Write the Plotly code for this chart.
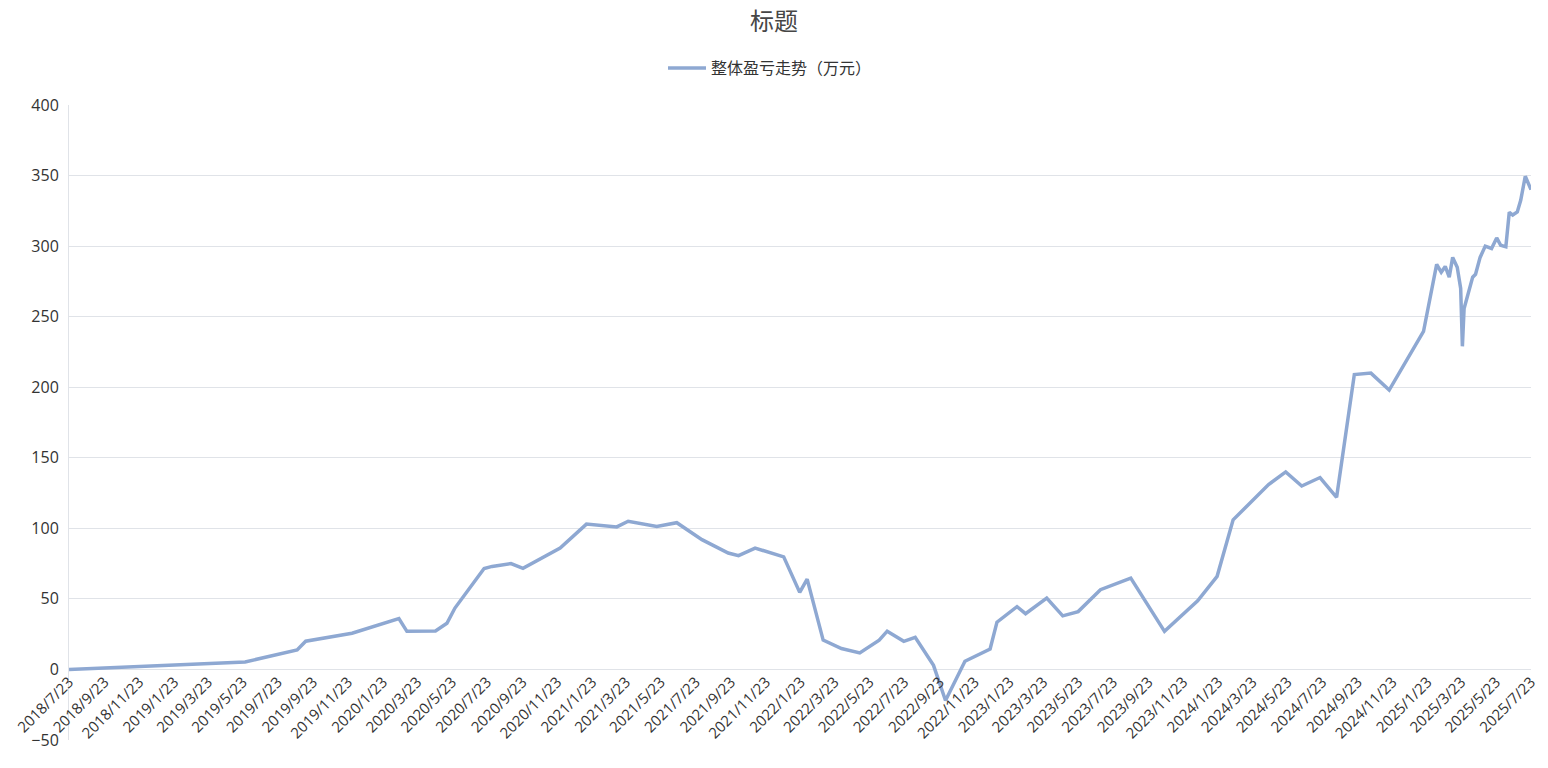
import plotly.graph_objects as go
from datetime import date

title_text = "标题"
series_name = "整体盈亏走势（万元）"

dates = [
    "2018-07-23", "2019-05-27", "2019-08-26", "2019-09-10", "2019-11-30",
    "2020-02-20", "2020-03-05", "2020-04-24", "2020-05-14", "2020-05-28",
    "2020-07-18", "2020-08-01", "2020-09-03", "2020-09-24", "2020-11-28",
    "2021-01-13", "2021-03-07", "2021-03-27", "2021-05-16", "2021-06-20",
    "2021-08-03", "2021-09-18", "2021-10-06", "2021-11-04", "2021-12-24",
    "2022-01-21", "2022-02-03", "2022-03-03", "2022-04-04", "2022-05-06",
    "2022-06-09", "2022-06-23", "2022-07-22", "2022-08-11", "2022-09-12",
    "2022-10-03", "2022-11-06", "2022-12-20", "2023-01-01", "2023-02-05",
    "2023-02-20", "2023-03-29", "2023-04-26", "2023-05-23", "2023-07-01",
    "2023-08-23", "2023-10-21", "2023-12-18", "2024-01-21", "2024-02-18",
    "2024-04-20", "2024-05-20", "2024-06-17", "2024-07-19", "2024-08-17",
    "2024-09-17", "2024-10-16", "2024-11-17", "2025-01-16", "2025-02-08",
    "2025-02-16", "2025-02-23", "2025-03-02", "2025-03-08", "2025-03-16",
    "2025-03-22", "2025-03-25", "2025-03-28", "2025-04-12", "2025-04-17",
    "2025-04-25", "2025-05-04", "2025-05-15", "2025-05-24", "2025-05-31",
    "2025-06-09", "2025-06-15", "2025-06-21", "2025-06-29", "2025-07-05",
    "2025-07-13", "2025-07-23",
]

values = [
    0, 5.3, 13.8, 20, 25.7,
    36, 27, 27.3, 32.7, 43.5,
    71.5, 73, 75, 71.6, 86,
    103, 101, 105, 101.4, 104,
    92, 82.5, 80.6, 86, 79.8,
    54.6, 64, 20.8, 14.8, 11.7,
    20.8, 27.1, 19.9, 22.8, 2.9,
    -22, 5.8, 14.5, 33.5, 44.5,
    39.5, 50.5, 38, 41, 56.5,
    64.7, 27, 48.7, 66, 106,
    131, 140, 130, 136, 122,
    209, 210, 198, 239.5, 287,
    281.5, 285.6, 278, 292, 285,
    270, 229, 255.8, 278, 280,
    292, 300, 298.3, 305.8, 300.6,
    299.5, 324, 322, 324.2, 332.5,
    349.5, 340,
]

# x tick labels: every two months on the 23rd, 2018/7/23 .. 2025/7/23
tick_dates = []
y_, m_ = 2018, 7
while (y_, m_) <= (2025, 7):
    tick_dates.append(date(y_, m_, 23))
    m_ += 2
    if m_ > 12:
        m_ -= 12
        y_ += 1
tick_vals = [d.isoformat() for d in tick_dates]
tick_text = [f"{d.year}/{d.month}/{d.day}" for d in tick_dates]

y_ticks = [-50, 0, 50, 100, 150, 200, 250, 300, 350, 400]

W, H = 1548, 768
ML, MR, MT, MB = 69, 17, 105, 28
plot_w = W - ML - MR
plot_h = H - MT - MB
y_min, y_max = -50, 400
zero_pos = (0 - y_min) / (y_max - y_min)  # fraction of y domain

font_family = "Open Sans, Noto Sans CJK SC, sans-serif"
line_color = "#8ea8d2"
grid_color = "#e0e3e8"

fig = go.Figure()
fig.add_trace(go.Scatter(
    x=dates, y=values, mode="lines", name=series_name,
    line=dict(color=line_color, width=3.5),
    showlegend=True,
))

fig.update_layout(
    width=W, height=H,
    margin=dict(l=ML, r=MR, t=MT, b=MB, pad=0, autoexpand=False),
    paper_bgcolor="white", plot_bgcolor="white",
    font=dict(family=font_family, size=15, color="#333333"),
    title=dict(text=title_text, x=0.5, xanchor="center", y=1 - 22 / H, yanchor="middle",
               font=dict(size=24, color="#464646", family="Noto Sans CJK SC, sans-serif")),
    legend=dict(orientation="h", x=(770 - ML) / plot_w, xanchor="center",
                y=1 + (MT - 68) / plot_h, yanchor="middle",
                font=dict(size=16, color="#333333", family="Noto Sans CJK SC, sans-serif"),
                itemwidth=38, bgcolor="rgba(0,0,0,0)"),
    xaxis=dict(
        type="date",
        range=[tick_vals[0], tick_vals[-1]],
        tickmode="array", tickvals=tick_vals, ticktext=tick_text,
        tickangle=-45, showgrid=False, zeroline=False, showline=False,
        anchor="free", position=zero_pos,
        tickfont=dict(size=15, color="#333333"),
        ticks="", ticklen=0,
    ),
    yaxis=dict(
        range=[y_min, y_max], tickmode="array", tickvals=y_ticks,
        showgrid=True, gridcolor=grid_color, gridwidth=1,
        zeroline=False, showline=True, linecolor=grid_color, linewidth=1,
        tickfont=dict(size=16, color="#333333"),
        ticks="", ticklabelstandoff=6,
    ),
)

fig.write_html("out.html", config={"displayModeBar": False},
               post_script="document.body.style.margin='0';")
